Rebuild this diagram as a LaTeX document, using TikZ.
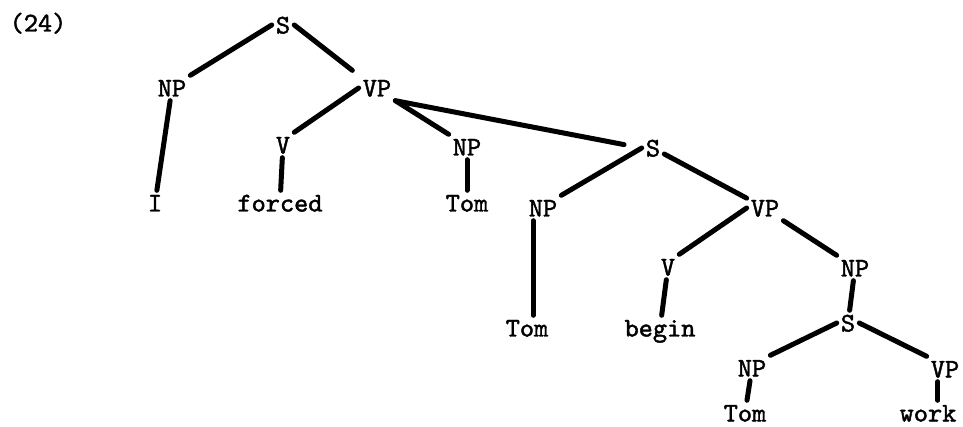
\documentclass[tikz,border=0pt]{standalone}
\usepackage{fontspec}
\usepackage{tikz}

\newfontfamily\typer[Extension=.otf,FakeBold=1.6]{lmmono10-regular}
\tikzset{
  cat/.style={font=\fontsize{27}{27}\selectfont\typer, inner sep=4pt, text height=17pt, text depth=0pt},
  branch/.style={draw=black, line width=5pt, line cap=round}
}

\begin{document}
\begin{tikzpicture}[x=1pt,y=1pt]
\useasboundingbox (0,0) rectangle (963,-427);
% labels:
\node[cat] (num) at (38,-23) {(24)};
\node[cat] (s1) at (283,-25) {S};
\node[cat] (np1) at (172,-88) {NP};
\node[cat] (vp1) at (377,-88) {VP};
\node[cat] (i) at (155,-203) {I};
\node[cat] (v1) at (283,-145) {V};
\node[cat] (forced) at (280,-203) {forced};
\node[cat] (np2) at (467,-147) {NP};
\node[cat] (tom1) at (467,-203) {Tom};
\node[cat] (s2) at (653,-148) {S};
\node[cat] (np3) at (543,-208) {NP};
\node[cat] (vp2) at (765,-208) {VP};
\node[cat] (tom2) at (527,-328) {Tom};
\node[cat] (v2) at (668,-267) {V};
\node[cat] (begin) at (660,-328) {begin};
\node[cat] (np4) at (855,-268) {NP};
\node[cat] (s3) at (848,-323) {S};
\node[cat] (np5) at (752,-368) {NP};
\node[cat] (vp3) at (945,-369) {VP};
\node[cat] (tom3) at (745,-413) {Tom};
\node[cat] (work) at (928,-413) {work};
% branches:
\path[branch] (s1.west) -- (np1.north east);
\path[branch,shorten >=8pt] (s1.east) -- (vp1.north west);
\path[branch] (np1) -- (i);
\path[branch] (vp1.west) -- (v1.north east);
\path[branch] (vp1.south east) -- (np2.north west);
\path[branch,shorten >=18pt] (vp1.south east) -- (s2.west);
\path[branch] (v1) -- (forced);
\path[branch] (np2) -- (tom1);
\path[branch] (s2.west) -- (np3.north east);
\path[branch] (s2) -- (vp2);
\path[branch] (np3.-128) -- (np3.-128 |- tom2.north);
\path[branch] (vp2.west) -- (v2.north east);
\path[branch] (vp2.south east) -- (np4.north west);
\path[branch] (v2) -- (begin);
\path[branch] (np4) -- (s3);
\path[branch] (s3.west) -- (np5.north east);
\path[branch] (s3.east) -- (vp3.north west);
\path[branch] (np5) -- (tom3);
\path[branch] (vp3.-119) -- (vp3.-119 |- work.north);
\end{tikzpicture}
\end{document}
